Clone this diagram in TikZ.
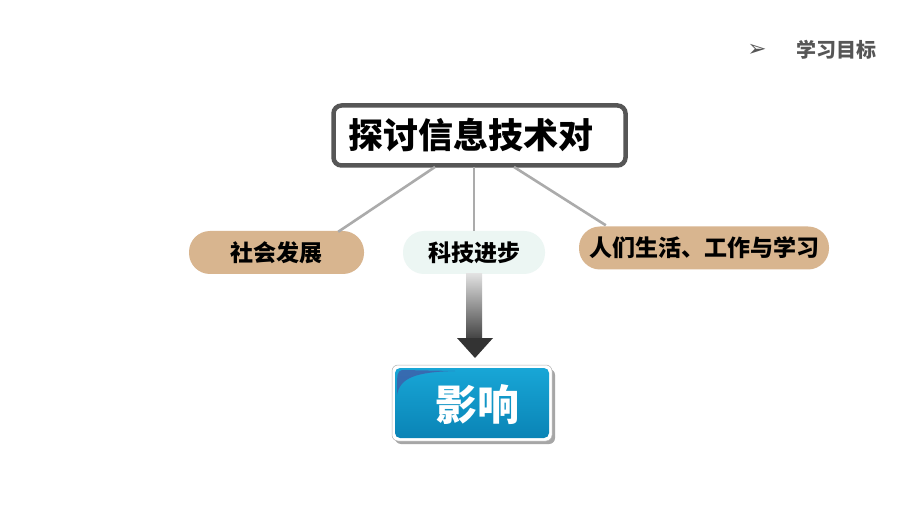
\documentclass[tikz,border=0pt]{standalone}
\usepackage{fontspec}
\newfontfamily\cjk{Noto Sans CJK SC}
\newfontfamily\sym{DejaVu Sans}
\usetikzlibrary{calc}
\definecolor{tan}{HTML}{D8B58F}
\definecolor{mint}{HTML}{ECF6F3}
\definecolor{frame}{HTML}{565656}
\definecolor{linkc}{HTML}{ABABAB}
\definecolor{blueA}{HTML}{18A6D6}
\definecolor{blueB}{HTML}{0A84B6}
\definecolor{gloss}{HTML}{3F5DA8}
\tikzset{
  pill/.style={rounded corners=21pt, minimum height=43pt, inner sep=0pt, font=\cjk\bfseries\fontsize{23}{23}\selectfont, text=black},
  link/.style={draw=linkc, line width=2.6pt},
}
\begin{document}
\begin{tikzpicture}[x=1pt,y=-1pt]
\useasboundingbox[fill=white] (0,0) rectangle (920,518);
% header
\node[font=\sym\fontsize{23}{23}\selectfont, text=frame] (hdrarrow) at (757,50) {➢};
\node[font=\cjk\bfseries\fontsize{20}{20}\selectfont, text=frame, anchor=west] (hdr) at (793,50) {学习目标};
% top box
\node[draw=frame, line width=4.5pt, fill=white, rounded corners=8pt, minimum width=292pt, minimum height=60pt,
      font=\cjk\bfseries\fontsize{35}{35}\selectfont] (top) at (479.5,135.5) {\hspace*{-18pt}探讨信息技术对};
% children
\node[pill, fill=tan, minimum width=175pt] (soc) at (276.5,252.5) {社会发展};
\node[pill, fill=mint, minimum width=142pt] (tech) at (474,252.5) {科技进步};
\node[pill, fill=tan, minimum width=250pt] (life) at (704,248) {人们生活、工作与学习};
% links
\coordinate (t1) at (435,167);
\coordinate (t2) at (474,167);
\coordinate (t3) at (514,167);
\draw[link] (t1) -- ($(soc.north east)+(-26,1)$);
\draw[link] (t2) -- (tech.north);
\draw[link] (t3) -- ($(life.north west)+(27,-1)$);
% gradient arrow
\shade[top color=white!88!black, bottom color=black!75] (466,274) rectangle (482,340);
\fill[black!80] (457,338) -- (493,338) -- (475,358) -- cycle;
% result box
\fill[black!35, rounded corners=6pt] (395,369) rectangle (555,444);
\node[draw=black!30, line width=0.5pt, fill=white, rounded corners=6pt, minimum width=160pt, minimum height=76pt] (resframe) at (472,403) {};
\shade[rounded corners=5pt, top color=blueA, bottom color=blueB] (395,368) rectangle (549,438);
\fill[gloss, opacity=0.8] (397,395) .. controls (400,378) and (415,372) .. (455,371) -- (402,370) .. controls (397,372) .. cycle;
\node[font=\cjk\bfseries\fontsize{42}{42}\selectfont, text=white] (res) at (477,405) {影响};
\end{tikzpicture}
\end{document}
